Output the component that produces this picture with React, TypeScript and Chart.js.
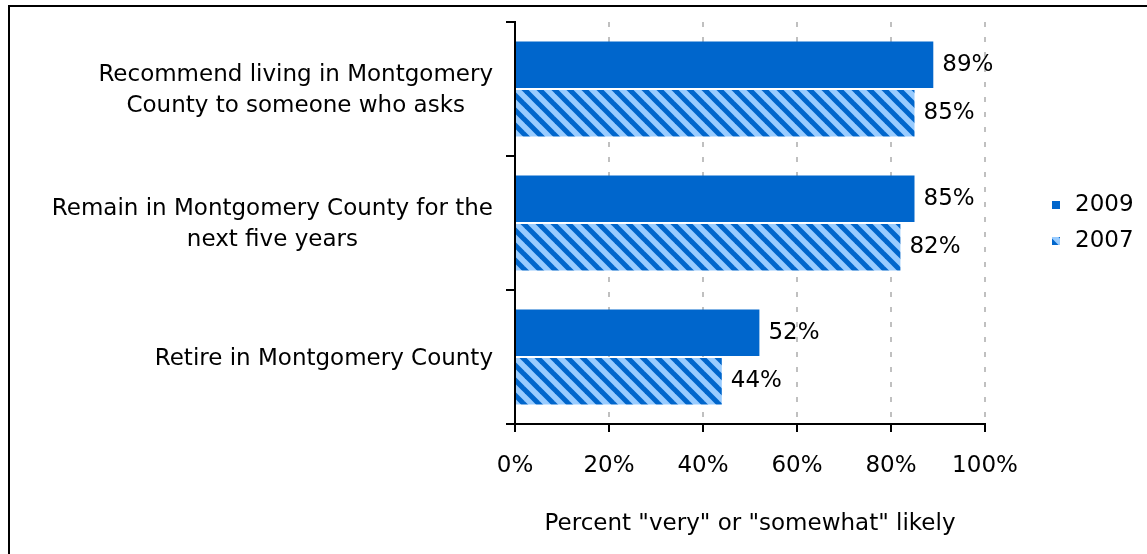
import React, { useEffect, useRef } from "react";
import { Chart, registerables } from "chart.js";

Chart.register(...registerables);

// ---- data ----
const categoryLines: string[][] = [
  ["Recommend living in Montgomery", "County to someone who asks"],
  ["Remain in Montgomery County for the", "next five years"],
  ["Retire in Montgomery County"],
];
const seriesLabels = ["2009", "2007"];
const values2009 = [89, 85, 52];
const values2007 = [85, 82, 44];
const xMin = 0;
const xMax = 100;
const xStep = 20;
const xTitle = 'Percent "very" or "somewhat" likely';

// ---- styles ----
const FONT_FAMILY = '"DejaVu Sans", sans-serif';
const FONT_SIZE = 23;
const SOLID = "#0066CC";
const LIGHT = "#99CCFF";

function makeHatch(ctx: CanvasRenderingContext2D): CanvasPattern | string {
  const p = 15;
  const c = document.createElement("canvas");
  c.width = p;
  c.height = p;
  const g = c.getContext("2d");
  if (!g) return SOLID;
  g.fillStyle = LIGHT;
  g.fillRect(0, 0, p, p);
  g.strokeStyle = SOLID;
  g.lineWidth = 5;
  for (const off of [-p, 0, p]) {
    g.beginPath();
    g.moveTo(-3, -3 + off);
    g.lineTo(p + 3, p + 3 + off);
    g.stroke();
  }
  return ctx.createPattern(c, "repeat") || SOLID;
}

const font = `${FONT_SIZE}px ${FONT_FAMILY}`;

const categoryLabelPlugin = {
  id: "categoryLabels",
  afterDraw(chart: any) {
    const ctx: CanvasRenderingContext2D = chart.ctx;
    const y = chart.scales.y;
    ctx.save();
    ctx.font = font;
    ctx.fillStyle = "#000";
    ctx.textAlign = "center";
    ctx.textBaseline = "middle";
    const right = chart.chartArea.left - 22;
    const lh = 31;
    categoryLines.forEach((lines, i) => {
      const cy = y.getPixelForValue(i) + 2;
      const w = Math.max(...lines.map((l) => ctx.measureText(l).width));
      const cx = right - w / 2;
      lines.forEach((l, j) => {
        ctx.fillText(l, cx, cy + (j - (lines.length - 1) / 2) * lh);
      });
    });
    ctx.restore();
  },
};

const valueLabelPlugin = {
  id: "valueLabels",
  afterDatasetsDraw(chart: any) {
    const ctx: CanvasRenderingContext2D = chart.ctx;
    ctx.save();
    ctx.font = font;
    ctx.fillStyle = "#000";
    ctx.textAlign = "left";
    ctx.textBaseline = "middle";
    chart.data.datasets.forEach((ds: any, di: number) => {
      const meta = chart.getDatasetMeta(di);
      meta.data.forEach((bar: any, i: number) => {
        ctx.fillText(`${ds.data[i]}%`, bar.x + 9, bar.y);
      });
    });
    ctx.restore();
  },
};

const legendPlugin = {
  id: "sideLegend",
  afterDraw(chart: any) {
    const ctx: CanvasRenderingContext2D = chart.ctx;
    const area = chart.chartArea;
    const x = area.right + 67;
    const mid = (area.top + area.bottom) / 2;
    const gap = 36;
    ctx.save();
    ctx.font = font;
    ctx.textAlign = "left";
    ctx.textBaseline = "middle";
    chart.data.datasets.forEach((ds: any, i: number) => {
      const cy = mid + (i - (chart.data.datasets.length - 1) / 2) * gap;
      ctx.fillStyle = ds.backgroundColor;
      ctx.fillRect(x, cy - 4, 8, 8);
      ctx.fillStyle = "#000";
      ctx.fillText(ds.label, x + 23, cy);
    });
    ctx.restore();
  },
};

export default function App() {
  const ref = useRef<HTMLCanvasElement | null>(null);

  useEffect(() => {
    const canvas = ref.current;
    if (!canvas) return;
    const ctx = canvas.getContext("2d");
    if (!ctx) return;
    const hatch = makeHatch(ctx);

    const chart = new Chart(canvas, {
      type: "bar",
      data: {
        labels: categoryLines.map((l) => l.join(" ")),
        datasets: [
          {
            label: seriesLabels[0],
            data: values2009,
            backgroundColor: SOLID,
            borderWidth: 0,
            categoryPercentage: 0.724,
            barPercentage: 0.96,
          },
          {
            label: seriesLabels[1],
            data: values2007,
            backgroundColor: hatch as any,
            borderWidth: 0,
            categoryPercentage: 0.724,
            barPercentage: 0.96,
          },
        ],
      },
      options: {
        indexAxis: "y",
        responsive: false,
        animation: false,
        devicePixelRatio: 1,
        layout: { padding: { top: 22, right: 162, left: 0, bottom: 0 } },
        plugins: {
          legend: { display: false },
          title: { display: false },
          tooltip: { enabled: false },
        },
        scales: {
          y: {
            type: "category",
            offset: true,
            grid: {
              offset: true,
              drawOnChartArea: false,
              drawTicks: true,
              tickLength: 9,
              color: "#000",
              lineWidth: 2,
            },
            border: { display: true, color: "#000", width: 2, z: 1 },
            ticks: { display: false },
            afterFit(scale: any) {
              scale.width = 515;
            },
          },
          x: {
            type: "linear",
            min: xMin,
            max: xMax,
            ticks: {
              stepSize: xStep,
              callback: (v: any) => `${v}%`,
              font: { family: FONT_FAMILY, size: FONT_SIZE },
              color: "#000",
              padding: 20,
              maxRotation: 0,
            },
            grid: {
              color: "#C0C0C0",
              lineWidth: 2,
              tickColor: "#000",
              tickWidth: 2,
              tickLength: 8,
            },
            border: { display: true, color: "#000", width: 2, dash: [5, 10], z: 1 },
            title: {
              display: true,
              text: xTitle,
              font: { family: FONT_FAMILY, size: FONT_SIZE },
              color: "#000",
              padding: { top: 0, bottom: 16 },
            },
            afterFit(scale: any) {
              scale.height = 130;
            },
          },
        },
      },
      plugins: [valueLabelPlugin, categoryLabelPlugin, legendPlugin],
    });

    return () => chart.destroy();
  }, []);

  return (
    <div
      style={{
        position: "fixed",
        left: 0,
        top: 0,
        width: 1147,
        height: 554,
        overflow: "hidden",
        background: "#fff",
      }}
    >
      <canvas ref={ref} width={1147} height={554} style={{ position: "absolute", left: 0, top: 0 }} />
      <div
        style={{
          position: "absolute",
          left: 8,
          top: 5,
          width: 1300,
          height: 700,
          border: "2px solid #000",
          pointerEvents: "none",
        }}
      />
    </div>
  );
}
